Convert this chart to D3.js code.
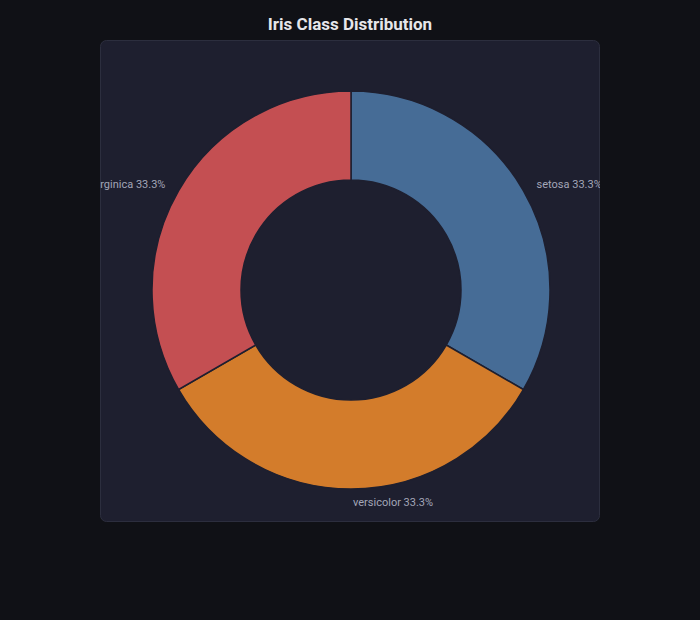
<!DOCTYPE html><html><head><meta charset="utf-8"><script src="https://cdn.jsdelivr.net/npm/d3@7"></script>
<style>body{margin:0;background:#101116;}</style></head><body><svg id="c" width="700" height="620"></svg>
<script>
const categories=["setosa","versicolor","virginica"];
const values=[50,50,50];
const colors=["#466c96","#d37c2b","#c44f52"];
const svg=d3.select("#c");
svg.append("rect").attr("width",700).attr("height",620).attr("fill","#101116");
svg.append("text").attr("x",350).attr("y",30).attr("text-anchor","middle").attr("font-family","Roboto").attr("font-weight","bold").attr("font-size",17).attr("fill","#e6e6ea").text("Iris Class Distribution");
svg.append("defs").append("clipPath").attr("id","pc").append("rect").attr("x",100).attr("y",40).attr("width",500).attr("height",482).attr("rx",6);
svg.append("rect").attr("x",100.5).attr("y",40.5).attr("width",499).attr("height",481).attr("rx",6).attr("fill","#1e1f2f").attr("stroke","#2c2e3e");
const g=svg.append("g").attr("clip-path","url(#pc)").append("g").attr("transform","translate(351,290)");
const total=d3.sum(values);
const pie=d3.pie().sort(null).value(d=>d)(values);
const arc=d3.arc().innerRadius(110).outerRadius(199);
g.selectAll("path").data(pie).join("path").attr("d",arc).attr("fill",(d,i)=>colors[i]).attr("stroke","#1e1f2f").attr("stroke-width",1.5);
const la=d3.arc().innerRadius(212).outerRadius(212);
g.selectAll("text").data(pie).join("text").each(function(d,i){
 const [x,y]=la.centroid(d);
 d3.select(this).attr("x",x+(x>=-0.5?2:-2)).attr("y",y).attr("dy","0.35em").attr("text-anchor",x>=-0.5?"start":"end")
 .attr("font-family","Roboto").attr("font-size",11).attr("fill","#a3a6b8").text(categories[i]+" "+(values[i]/total*100).toFixed(1)+"%");
});
</script></body></html>
